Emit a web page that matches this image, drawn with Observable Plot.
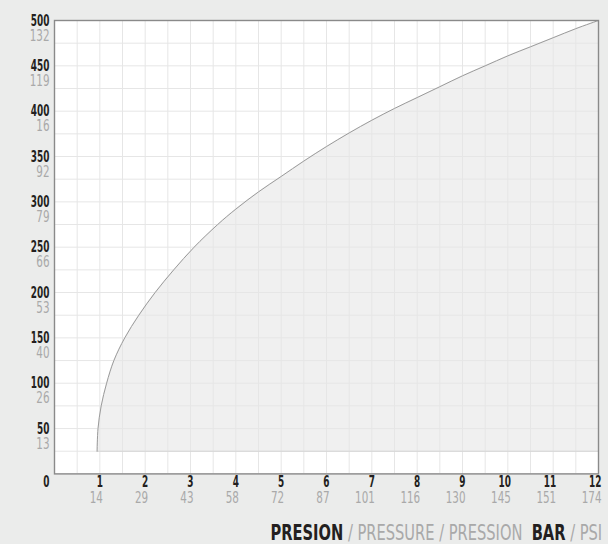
<!DOCTYPE html>
<html>
<head>
<meta charset="utf-8">
<script src="https://cdn.jsdelivr.net/npm/d3@7"></script>
<script src="https://cdn.jsdelivr.net/npm/@observablehq/plot@0.6"></script>
<style>
  html, body { margin: 0; padding: 0; background: #ebeceb; }
  body { width: 608px; height: 544px; position: relative; overflow: hidden;
         font-family: 'DejaVu Sans Condensed', 'DejaVu Sans', sans-serif; }
  #chart svg { display: block; }
  #caption { position: absolute; right: 6px; top: 522px; font-size: 22px; line-height: 1; white-space: pre;
             transform: scaleX(0.74); transform-origin: right center; }
  #caption .b { color: #231f20; font-weight: bold; }
  #caption .g { color: #a9a9a9; }
</style>
</head>
<body>
<div id="chart"></div>
<div id="caption"><span class="b">PRESION</span><span class="g"> / PRESSURE / PRESSION</span>  <span class="b">BAR</span><span class="g"> / PSI</span></div>
<script>
// Pressure (bar) vs flow
const bar  = [0.94, 0.96, 1.03, 1.15, 1.31, 1.55, 1.86, 2.22, 2.63, 3.08, 3.60, 4.0, 4.5, 5.0, 5.5, 6.0, 6.5, 7.0, 7.5, 8.0, 8.5, 9.0, 9.5, 10.0, 10.5, 11.0, 11.5, 12.0];
const flow = [25, 50, 75, 100, 125, 150, 175, 200, 225, 250, 275, 292, 311, 328, 345, 361, 376, 390, 403, 415, 427, 439, 450, 461, 471, 481, 491, 500];
const baseFlow = 25;

// Axis labels
const yTicks = [50, 100, 150, 200, 250, 300, 350, 400, 450, 500];
const ySecondary = ["13", "26", "40", "53", "66", "79", "92", "16", "119", "132"];
const xTicks = [1, 2, 3, 4, 5, 6, 7, 8, 9, 10, 11, 12];
const xSecondary = ["14", "29", "43", "58", "72", "87", "101", "116", "130", "145", "151", "174"];
const zeroLabel = [0];

const data = bar.map((b, i) => ({bar: b, flow: flow[i]}));
const yIdx = yTicks.map((_, i) => i);
const xIdx = xTicks.map((_, i) => i);

const font = "'DejaVu Sans Condensed', 'DejaVu Sans', sans-serif";
const primary = {fontSize: 16, fontWeight: "bold", fill: "#231f20", className: "lab-primary"};
const secondary = {fontSize: 16, fill: "#a9a9a9", className: "lab-secondary"};

const chart = Plot.plot({
  width: 608,
  height: 512,
  marginLeft: 54,
  marginRight: 10,
  marginTop: 20,
  marginBottom: 38.6,
  style: {background: "transparent", fontFamily: font},
  x: {domain: [0, 12], axis: null},
  y: {domain: [0, 500], axis: null},
  marks: [
    Plot.frame({fill: "white", stroke: "none"}),
    Plot.areaY(data, {x: "bar", y1: baseFlow, y2: "flow", fill: "#f0f0f0", curve: "catmull-rom"}),
    Plot.gridX(d3.range(0, 12.01, 0.5), {stroke: "#e6e6e6", strokeOpacity: 1, strokeWidth: 1}),
    Plot.gridY(d3.range(0, 500.1, 25), {stroke: "#e6e6e6", strokeOpacity: 1, strokeWidth: 1}),
    Plot.ruleY([baseFlow], {x1: bar[0], x2: 12, stroke: "#d4d4d4", strokeWidth: 1}),
    Plot.line(data, {x: "bar", y: "flow", stroke: "#9a9a9a", strokeWidth: 1, curve: "catmull-rom"}),
    Plot.frame({stroke: "#8a8a8a", strokeWidth: 1.4}),
    // Y labels
    Plot.text(yIdx, {x: () => 0, y: i => yTicks[i], text: i => String(yTicks[i]), textAnchor: "end", dx: -5, ...primary}),
    Plot.text(yIdx, {x: () => 0, y: i => yTicks[i], text: i => ySecondary[i], textAnchor: "end", dx: -5, dy: 15, ...secondary}),
    // X labels
    Plot.text(zeroLabel, {x: d => d, frameAnchor: "bottom", text: d => String(d), textAnchor: "end", dx: -5, dy: 13, ...primary}),
    Plot.text(xIdx, {x: i => xTicks[i], frameAnchor: "bottom", text: i => String(xTicks[i]), textAnchor: "end", dx: 3, dy: 13, ...primary}),
    Plot.text(xIdx, {x: i => xTicks[i], frameAnchor: "bottom", text: i => xSecondary[i], textAnchor: "end", dx: 3, dy: 29, ...secondary})
  ]
});
document.getElementById("chart").appendChild(chart);

// Condense label glyphs to mimic the narrow typeface of the reference
function condense(selector, factor) {
  chart.querySelectorAll(selector + " text").forEach(t => {
    const len = t.getComputedTextLength();
    if (len > 0) {
      t.setAttribute("textLength", (len * factor).toFixed(2));
      t.setAttribute("lengthAdjust", "spacingAndGlyphs");
    }
  });
}
condense(".lab-primary", 0.62);
condense(".lab-secondary", 0.72);
</script>
</body>
</html>
